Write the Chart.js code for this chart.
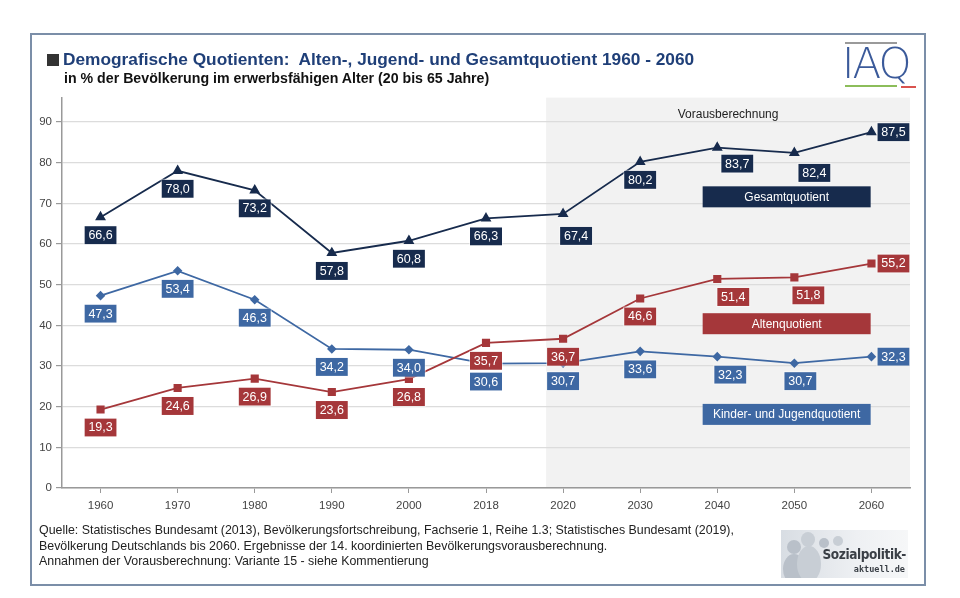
<!DOCTYPE html>
<html>
<head>
<meta charset="utf-8">
<script src="https://cdn.jsdelivr.net/npm/chart.js@4/dist/chart.umd.min.js"></script>
<style>
  html, body { margin: 0; padding: 0; background: #fff; }
  body { width: 960px; height: 598px; position: relative; overflow: hidden; font-family: "Liberation Sans", Arial, sans-serif; }
  #frame { position: absolute; left: 30px; top: 33px; width: 892px; height: 549px; border: 2px solid #7b8ea8; }
  #chartWrap { position: absolute; left: 0; top: 0; width: 960px; height: 598px; }
  .title { position: absolute; left: 47px; top: 49px; font-size: 17.3px; font-weight: bold; color: #1f3f78; white-space: nowrap; }
  .title .sq { display: inline-block; width: 12px; height: 12px; background: #333; margin-right: 4px; vertical-align: -1px; }
  .sub { position: absolute; left: 64px; top: 70px; font-size: 14.2px; font-weight: bold; color: #111; white-space: nowrap; }
  .note { position: absolute; left: 39px; top: 523px; font-size: 12.4px; line-height: 15.6px; color: #222; white-space: nowrap; }
  #iaq { position: absolute; left: 842px; top: 40px; width: 76px; height: 50px; }
  #iaq .top { position: absolute; left: 3px; top: 2px; width: 52px; height: 2px; background: #9a9a9a; }
  #iaq .txt { position: absolute; left: 0; top: 3px; font-size: 42px; line-height: 42px; color: #3b5a9a; font-family: "DejaVu Sans", sans-serif; font-weight: 200; letter-spacing: -2px; }
  #iaq .green { position: absolute; left: 3px; top: 45px; width: 52px; height: 2px; background: #8cbd5a; }
  #iaq .red { position: absolute; left: 59px; top: 46px; width: 15px; height: 2px; background: #d9534f; }
  #sp { position: absolute; left: 781px; top: 530px; width: 127px; height: 48px; background: linear-gradient(90deg, #d8dde3, #eef0f3 60%, #f6f7f8); overflow: hidden; }
  #sp .p { position: absolute; background: #b9c0c9; border-radius: 50%; }
  #sp .t1 { position: absolute; right: 2px; top: 16px; font-family: "DejaVu Sans Condensed", "DejaVu Sans", sans-serif; font-weight: bold; font-size: 13.5px; color: #3a3f46; letter-spacing: -0.4px; }
  #sp .t2 { position: absolute; right: 3px; top: 34px; font-family: "DejaVu Sans Mono", monospace; font-weight: bold; font-size: 8.5px; color: #3a3f46; }
</style>
</head>
<body>
<div id="frame"></div>
<div id="chartWrap"><canvas id="quotChart" width="960" height="598"></canvas></div>
<div class="title"><span class="sq"></span>Demografische Quotienten:&nbsp; Alten-, Jugend- und Gesamtquotient 1960 - 2060</div>
<div class="sub">in % der Bevölkerung im erwerbsfähigen Alter (20 bis 65 Jahre)</div>
<div class="note">Quelle: Statistisches Bundesamt (2013), Bevölkerungsfortschreibung, Fachserie 1, Reihe 1.3; Statistisches Bundesamt (2019),<br>Bevölkerung Deutschlands bis 2060. Ergebnisse der 14. koordinierten Bevölkerungsvorausberechnung.<br>Annahmen der Vorausberechnung: Variante 15 - siehe Kommentierung</div>
<div id="iaq"><div class="top"></div><div class="txt">IAQ</div><div class="green"></div><div class="red"></div></div>
<div id="sp">
  <div class="p" style="left:6px;top:10px;width:14px;height:14px"></div>
  <div class="p" style="left:2px;top:24px;width:22px;height:30px"></div>
  <div class="p" style="left:20px;top:2px;width:14px;height:15px;background:#c8ced5"></div>
  <div class="p" style="left:16px;top:16px;width:24px;height:36px;background:#c8ced5"></div>
  <div class="p" style="left:38px;top:8px;width:10px;height:10px"></div>
  <div class="p" style="left:52px;top:6px;width:10px;height:10px;background:#c8ced5"></div>
  <div class="t1">Sozialpolitik-</div>
  <div class="t2">aktuell.de</div>
</div>

<script>
// ---------------- data ----------------
const years = ['1960', '1970', '1980', '1990', '2000', '2018', '2020', '2030', '2040', '2050', '2060'];
const gesamtQuote = [66.6, 78.0, 73.2, 57.8, 60.8, 66.3, 67.4, 80.2, 83.7, 82.4, 87.5];
const altenQuote = [19.3, 24.6, 26.9, 23.6, 26.8, 35.7, 36.7, 46.6, 51.4, 51.8, 55.2];
const jugendQuote = [47.3, 53.4, 46.3, 34.2, 34.0, 30.6, 30.7, 33.6, 32.3, 30.7, 32.3];
const yTicks = [0, 10, 20, 30, 40, 50, 60, 70, 80, 90];

const NAVY = '#172b4d';
const RED = '#a5373a';
const BLUE = '#3e68a3';

// label offsets (px) per point index, default is just below the marker
const labelShift = [
  { 6: [13, 22], 8: [20, 16], 9: [20, 20], 10: [22, 0] },
  { 8: [16, 18], 9: [14, 18], 10: [22, 0] },
  { 8: [13, 18], 9: [6, 18], 10: [22, 0] },
];

const fmt = v => v.toFixed(1).replace('.', ',');

// grey area for the projection period + label boxes
const annotate = {
  id: 'annotate',
  beforeDraw(chart) {
    const { ctx, chartArea, scales } = chart;
    const x0 = scales.x.getPixelForValue(5.78);
    ctx.save();
    ctx.fillStyle = '#f2f2f2';
    ctx.fillRect(x0, chartArea.top, chartArea.right - x0, chartArea.bottom - chartArea.top);
    ctx.fillStyle = '#222';
    ctx.font = '12px "Liberation Sans", Arial, sans-serif';
    ctx.textAlign = 'center';
    ctx.textBaseline = 'middle';
    ctx.fillText('Vorausberechnung', (x0 + chartArea.right) / 2, scales.y.getPixelForValue(91.7));
    ctx.restore();
  },
  afterDatasetsDraw(chart) {
    const { ctx, scales } = chart;
    ctx.save();
    ctx.font = '12.5px "Liberation Sans", Arial, sans-serif';
    ctx.textAlign = 'center';
    ctx.textBaseline = 'middle';
    chart.data.datasets.forEach((ds, di) => {
      const meta = chart.getDatasetMeta(di);
      meta.data.forEach((pt, i) => {
        const [dx, dy] = labelShift[di][i] || [0, 18];
        const cx = pt.x + dx, cy = pt.y + dy;
        ctx.fillStyle = ds.borderColor;
        ctx.fillRect(cx - 16, cy - 9, 32, 18);
        ctx.strokeStyle = 'rgba(255,255,255,0.45)';
        ctx.lineWidth = 1;
        ctx.strokeRect(cx - 16.5, cy - 9.5, 33, 19);
        ctx.fillStyle = '#fff';
        ctx.fillText(fmt(ds.data[i]), cx, cy + 0.5);
      });
    });

    // series name boxes
    const boxes = [
      ['Gesamtquotient', NAVY, 71.6],
      ['Altenquotient', RED, 40.4],
      ['Kinder- und Jugendquotient', BLUE, 18.1],
    ];
    ctx.font = '12px "Liberation Sans", Arial, sans-serif';
    boxes.forEach(([name, col, v]) => {
      const cx = scales.x.getPixelForValue(8.9);
      const cy = scales.y.getPixelForValue(v);
      ctx.fillStyle = col;
      ctx.fillRect(cx - 84, cy - 10.5, 168, 21);
      ctx.fillStyle = '#fff';
      ctx.fillText(name, cx, cy + 0.5);
    });
    ctx.restore();
  },
};

const ctx = document.getElementById('quotChart').getContext('2d');
new Chart(ctx, {
  type: 'line',
  data: {
    labels: years,
    datasets: [
      {
        label: 'Gesamtquotient',
        data: gesamtQuote,
        borderColor: NAVY,
        backgroundColor: NAVY,
        borderWidth: 1.8,
        pointStyle: 'triangle',
        pointRadius: 4.5,
        tension: 0,
      },
      {
        label: 'Altenquotient',
        data: altenQuote,
        borderColor: RED,
        backgroundColor: RED,
        borderWidth: 1.8,
        pointStyle: 'rect',
        pointRadius: 4.5,
        tension: 0,
      },
      {
        label: 'Kinder- und Jugendquotient',
        data: jugendQuote,
        borderColor: BLUE,
        backgroundColor: BLUE,
        borderWidth: 1.8,
        pointStyle: 'rectRot',
        pointRadius: 3.5,
        tension: 0,
      },
    ],
  },
  options: {
    responsive: false,
    animation: false,
    layout: {
      padding: { left: 30, right: 50, top: 97.6, bottom: 80 },
    },
    plugins: {
      legend: { display: false },
      tooltip: { enabled: false },
    },
    scales: {
      x: {
        offset: true,
        afterFit: s => { s.height = 30; },
        grid: { drawOnChartArea: false, tickLength: 5, color: '#999' },
        border: { color: '#999', width: 1.5 },
        ticks: { color: '#444', padding: 6, font: { family: '"Liberation Sans", Arial, sans-serif', size: 11.5 } },
      },
      y: {
        min: 0,
        max: 96,
        afterFit: s => { s.width = 32; },
        afterBuildTicks: s => { s.ticks = yTicks.map(v => ({ value: v })); },
        grid: { color: '#dcdcdc', lineWidth: 1.2, tickLength: 6, tickColor: '#999' },
        border: { color: '#999', width: 1.5 },
        ticks: { color: '#444', padding: 4, font: { family: '"Liberation Sans", Arial, sans-serif', size: 11.5 } },
      },
    },
  },
  plugins: [annotate],
});
</script>
</body>
</html>
